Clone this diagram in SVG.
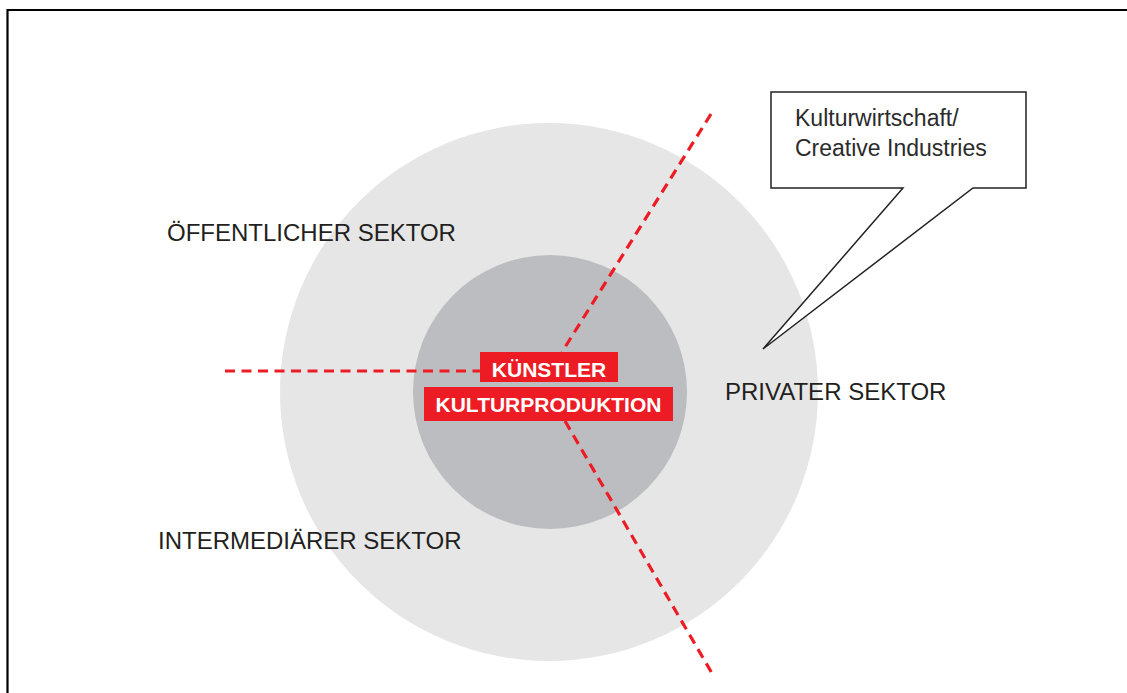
<svg xmlns="http://www.w3.org/2000/svg" width="1127" height="693" viewBox="0 0 1127 693">
<style>
.sector{font-family:"Liberation Sans",Arial,sans-serif;font-size:24px;fill:#231f20}
.tag{font-family:"Liberation Sans",Arial,sans-serif;font-size:21px;font-weight:bold;fill:#ffffff}
.call{font-family:"Liberation Sans",Arial,sans-serif;font-size:23px;fill:#2b2b2b}
.dash{fill:none;stroke:#ed1c24;stroke-width:3.2;stroke-dasharray:10 6.5}
</style>
<rect width="1127" height="693" fill="#ffffff"/>
<path d="M7.5 693 V10 H1127" fill="none" stroke="#000" stroke-width="2.2"/>
<g id="outer-circle"><circle cx="549" cy="392" r="269" fill="#e6e6e6"/></g>
<g id="inner-circle"><circle cx="550" cy="392" r="137" fill="#bcbdc0"/></g>
<g id="connectors">
<line class="dash" x1="225" y1="371" x2="480" y2="371"/>
<line class="dash" x1="711" y1="114" x2="562" y2="352"/>
<line class="dash" x1="565" y1="421" x2="713" y2="675"/>
</g>
<g id="oeffentlicher"><text class="sector" x="167" y="241">ÖFFENTLICHER SEKTOR</text></g>
<g id="intermediaerer"><text class="sector" x="158" y="549">INTERMEDIÄRER SEKTOR</text></g>
<g id="privater"><text class="sector" x="725" y="400">PRIVATER SEKTOR</text></g>
<g id="kuenstler">
<rect x="480" y="352" width="138" height="30" fill="#ed1c24"/>
<text class="tag" x="549" y="377" text-anchor="middle">KÜNSTLER</text>
</g>
<g id="kulturproduktion">
<rect x="424" y="387" width="249" height="34" fill="#ed1c24"/>
<text class="tag" x="548.5" y="411.5" text-anchor="middle">KULTURPRODUKTION</text>
</g>
<g id="callout">
<path d="M771 92 H1026 V188 H973 L763 349 L903 188 H771 Z" fill="#ffffff" stroke="#222" stroke-width="1.5" stroke-linejoin="miter"/>
<text class="call" x="795" y="126">Kulturwirtschaft/</text>
<text class="call" x="795" y="156">Creative Industries</text>
</g>
</svg>
